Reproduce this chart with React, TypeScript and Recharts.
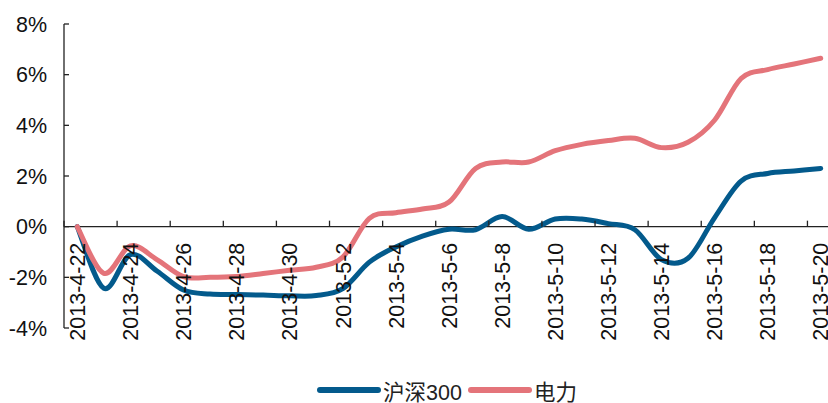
import React from 'react';
import { LineChart, Line, XAxis, YAxis, ReferenceLine } from 'recharts';

// Calendar days shown on the category axis
const dates = [
  '2013-4-22', '2013-4-23', '2013-4-24', '2013-4-25', '2013-4-26', '2013-4-27', '2013-4-28',
  '2013-4-29', '2013-4-30', '2013-5-1', '2013-5-2', '2013-5-3', '2013-5-4', '2013-5-5',
  '2013-5-6', '2013-5-7', '2013-5-8', '2013-5-9', '2013-5-10', '2013-5-11', '2013-5-12',
  '2013-5-13', '2013-5-14', '2013-5-15', '2013-5-16', '2013-5-17', '2013-5-18', '2013-5-19',
  '2013-5-20',
];

// Cumulative return, %
const hs300 = [
  0, -2.43, -1.1, -1.75, -2.5, -2.66, -2.68,
  -2.7, -2.73, -2.72, -2.45, -1.4, -0.8, -0.37,
  -0.1, -0.12, 0.4, -0.1, 0.3, 0.3, 0.12,
  -0.12, -1.3, -1.25, 0.35, 1.8, 2.1, 2.2,
  2.3,
];

const power = [
  0, -1.84, -0.76, -1.3, -1.97, -2.0, -1.97,
  -1.85, -1.72, -1.6, -1.2, 0.33, 0.55, 0.7,
  0.97, 2.3, 2.55, 2.55, 3.0, 3.25, 3.4,
  3.49, 3.12, 3.33, 4.2, 5.85, 6.2, 6.42,
  6.65,
];

const yTicks = [-4, -2, 0, 2, 4, 6, 8];
const xTickIdx = dates.map((_, i) => i).filter((i) => i % 2 === 0);

const SERIES_NAMES = { hs300: '沪深300', power: '电力' };
const BLUE = '#035a8c';
const RED = '#e4747a';

const data = dates.map((d, i) => ({ i, date: d, hs300: hs300[i], power: power[i] }));

// Chart geometry
const CHART_W = 840;
const CHART_H = 403;
const MARGIN = { top: 24, right: 6, bottom: 45, left: 0 };
const Y_AXIS_W = 64;
const X_AXIS_H = 30;
const PLOT_TOP = MARGIN.top;
const PLOT_H = CHART_H - MARGIN.top - MARGIN.bottom - X_AXIS_H;
const PLOT_W = CHART_W - MARGIN.left - MARGIN.right - Y_AXIS_W;
const Y_MIN = -4;
const Y_MAX = 8;
const ZERO_Y = PLOT_TOP + (Y_MAX / (Y_MAX - Y_MIN)) * PLOT_H;
const HALF_BAND = PLOT_W / dates.length / 2;
const AXIS_X = MARGIN.left + Y_AXIS_W;

const FONT = '"Liberation Sans", Arial, "Noto Sans CJK SC", sans-serif';
const FONT_SIZE = 21.5;

// Smoothed line through every point (uniform Catmull-Rom as cubic Béziers)
const smoothCurve = (context: any) => {
  let pts: [number, number][] = [];
  return {
    areaStart() {},
    areaEnd() {},
    lineStart() {
      pts = [];
    },
    point(x: number, y: number) {
      pts.push([+x, +y]);
    },
    lineEnd() {
      const n = pts.length;
      if (!n) return;
      context.moveTo(pts[0][0], pts[0][1]);
      for (let k = 0; k < n - 1; k++) {
        const p0 = pts[k - 1] || pts[k];
        const p1 = pts[k];
        const p2 = pts[k + 1];
        const p3 = pts[k + 2] || p2;
        context.bezierCurveTo(
          p1[0] + (p2[0] - p0[0]) / 6,
          p1[1] + (p2[1] - p0[1]) / 6,
          p2[0] - (p3[0] - p1[0]) / 6,
          p2[1] - (p3[1] - p1[1]) / 6,
          p2[0],
          p2[1],
        );
      }
    },
  };
};

const XTick = (props: any) => {
  const { x, payload } = props;
  const label = dates[payload.value];
  const tx = x - HALF_BAND;
  return (
    <g>
      <line x1={tx} y1={ZERO_Y} x2={tx} y2={ZERO_Y - 6} stroke="#222" strokeWidth={1.3} />
      <text
        x={x}
        y={ZERO_Y + 16}
        dy="0.36em"
        transform={`rotate(-90 ${x} ${ZERO_Y + 16})`}
        textAnchor="end"
        fontFamily={FONT}
        fontSize={FONT_SIZE}
        fill="#111"
      >
        {label}
      </text>
    </g>
  );
};

const YTick = (props: any) => {
  const { y, payload } = props;
  return (
    <g>
      <line x1={AXIS_X} y1={y} x2={AXIS_X + 5} y2={y} stroke="#222" strokeWidth={1.3} />
      <text
        x={AXIS_X - 17}
        y={y}
        dy="0.36em"
        textAnchor="end"
        fontFamily={FONT}
        fontSize={FONT_SIZE}
        fill="#111"
      >
        {`${payload.value}%`}
      </text>
    </g>
  );
};

const LegendItem = ({ color, name }: { color: string; name: string }) => (
  <div style={{ display: 'flex', alignItems: 'center', marginRight: 6 }}>
    <svg width={64} height={12} style={{ display: 'block' }}>
      <line x1={3} y1={6} x2={61} y2={6} stroke={color} strokeWidth={6} strokeLinecap="round" />
    </svg>
    <span style={{ fontFamily: FONT, fontSize: FONT_SIZE, color: '#222', marginLeft: 2 }}>{name}</span>
  </div>
);

export default function App() {
  return (
    <div
      style={{
        position: 'absolute',
        left: 0,
        top: 0,
        width: 828,
        height: 403,
        overflow: 'hidden',
        background: '#fff',
      }}
    >
      <LineChart width={CHART_W} height={CHART_H} data={data} margin={MARGIN}>
        <XAxis
          dataKey="i"
          type="number"
          domain={[-0.5, dates.length - 0.5]}
          ticks={xTickIdx}
          interval={0}
          height={X_AXIS_H}
          axisLine={false}
          tickLine={false}
          tick={<XTick />}
        />
        <YAxis
          type="number"
          domain={[Y_MIN, Y_MAX]}
          ticks={yTicks}
          interval={0}
          width={Y_AXIS_W}
          axisLine={{ stroke: '#222', strokeWidth: 1.3 }}
          tickLine={false}
          tick={<YTick />}
        />
        <ReferenceLine y={0} stroke="#222" strokeWidth={1.3} />
        <Line
          dataKey="hs300"
          name={SERIES_NAMES.hs300}
          type={smoothCurve as any}
          stroke={BLUE}
          strokeWidth={5}
          strokeLinecap="round"
          strokeLinejoin="round"
          dot={false}
          isAnimationActive={false}
        />
        <Line
          dataKey="power"
          name={SERIES_NAMES.power}
          type={smoothCurve as any}
          stroke={RED}
          strokeWidth={5}
          strokeLinecap="round"
          strokeLinejoin="round"
          dot={false}
          isAnimationActive={false}
        />
      </LineChart>
      <div
        style={{
          position: 'absolute',
          left: 317,
          top: 376,
          display: 'flex',
          alignItems: 'center',
          height: 28,
        }}
      >
        <LegendItem color={BLUE} name={SERIES_NAMES.hs300} />
        <LegendItem color={RED} name={SERIES_NAMES.power} />
      </div>
    </div>
  );
}
